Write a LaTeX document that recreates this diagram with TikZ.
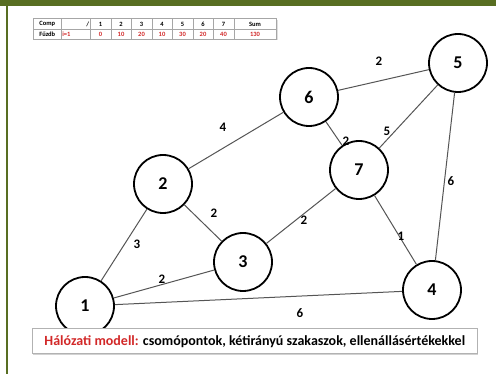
\documentclass[tikz,border=0pt]{standalone}
\usepackage{fontspec}
\setmainfont{Carlito}
\definecolor{olive}{RGB}{88,110,34}
\definecolor{capred}{RGB}{210,40,40}
\definecolor{edgegray}{RGB}{85,85,85}
\begin{document}
\begin{tikzpicture}[x=1pt,y=-1pt,
  vert/.style={circle,draw=black,line width=1.8pt,fill=white,minimum size=58pt,inner sep=0pt,font=\fontsize{18}{18}\selectfont\bfseries},
  wlabel/.style={font=\fontsize{13}{13}\selectfont\bfseries,inner sep=0pt},
  link/.style={draw=edgegray,line width=1pt},
  cell/.style={draw=gray!70,line width=0.5pt,minimum height=10.5pt,inner sep=0pt,font=\fontsize{6.5}{6.5}\selectfont\bfseries,anchor=north west},
  redtxt/.style={text=capred}]
\useasboundingbox (0,0) rectangle (496,374);
\fill[white] (0,0) rectangle (496,374);
\fill[olive] (0,0) rectangle (496,6);
\fill[olive] (5.8,6) rectangle (7.6,374);

% table
\fill[gray!25] (34.5,20) rectangle (277.5,40.5);
\node[cell,minimum width=28pt,fill=white] (c11) at (33,18.5) {Comp};
\node[cell,minimum width=29pt,fill=white,text width=27pt,align=right] (c12) at (61,18.5) {/};
\foreach \i in {1,...,7}{
  \node[cell,minimum width=20.5pt,fill=white] (h\i) at ({90+(\i-1)*20.5},18.5) {\i};
}
\node[cell,minimum width=42.5pt,fill=white] (hs) at (233.5,18.5) {Sum};
\node[cell,minimum width=28pt,fill=white] (c21) at (33,29) {Fűzdb};
\node[cell,minimum width=29pt,fill=white,redtxt,text width=27pt,align=left] (c22) at (61,29) {i=1};
\foreach \i/\v in {1/0,2/10,3/20,4/10,5/30,6/20,7/40}{
  \node[cell,minimum width=20.5pt,fill=white,redtxt] (v\i) at ({90+(\i-1)*20.5},29) {\v};
}
\node[cell,minimum width=42.5pt,fill=white,redtxt] (vs) at (233.5,29) {130};

% nodes
\node[vert] (n1) at (85,306) {1};
\node[vert] (n2) at (163,184) {2};
\node[vert] (n3) at (243,262) {3};
\node[vert] (n4) at (432,290) {4};
\node[vert] (n5) at (458,63) {5};
\node[vert] (n6) at (309,97) {6};
\node[vert] (n7) at (359,170) {7};

% edges
\path[link] (n1) -- (n2);
\path[link] (n1) -- (n3);
\path[link] (n1) -- (n4);
\path[link] (n2) -- (n3);
\path[link] (n2) -- (n6);
\path[link] (n3) -- (n7);
\path[link] (n6) -- (n5);
\path[link] (n6) -- (n7);
\path[link] (n7) -- (n5);
\path[link] (n7) -- (n4);
\path[link] (n5) -- (n4);

% edge labels
\node[wlabel] (l12) at (137,244) {3};
\node[wlabel] (l13) at (162,279) {2};
\node[wlabel] (l23) at (214,213) {2};
\node[wlabel] (l26) at (223,127) {4};
\node[wlabel] (l65) at (379,61) {2};
\node[wlabel] (l67) at (346,141) {2};
\node[wlabel] (l75) at (387,131) {5};
\node[wlabel] (l37) at (304,220) {2};
\node[wlabel] (l74) at (401,236) {1};
\node[wlabel] (l54) at (451,181) {6};
\node[wlabel] (l14) at (300,313) {6};

% caption
\fill[gray!35] (33,330) rectangle (478,355.5);
\node[draw=gray!60,line width=0.6pt,fill=white,minimum width=445pt,minimum height=25pt,inner sep=0pt,anchor=north west] (cap) at (32,328.5) {};
\node[font=\fontsize{14}{14}\selectfont\bfseries,inner sep=0pt] (captxt) at (cap.center) {\textcolor{capred}{Hálózati modell:} csomópontok, kétirányú szakaszok, ellenállásértékekkel};
\end{tikzpicture}
\end{document}
